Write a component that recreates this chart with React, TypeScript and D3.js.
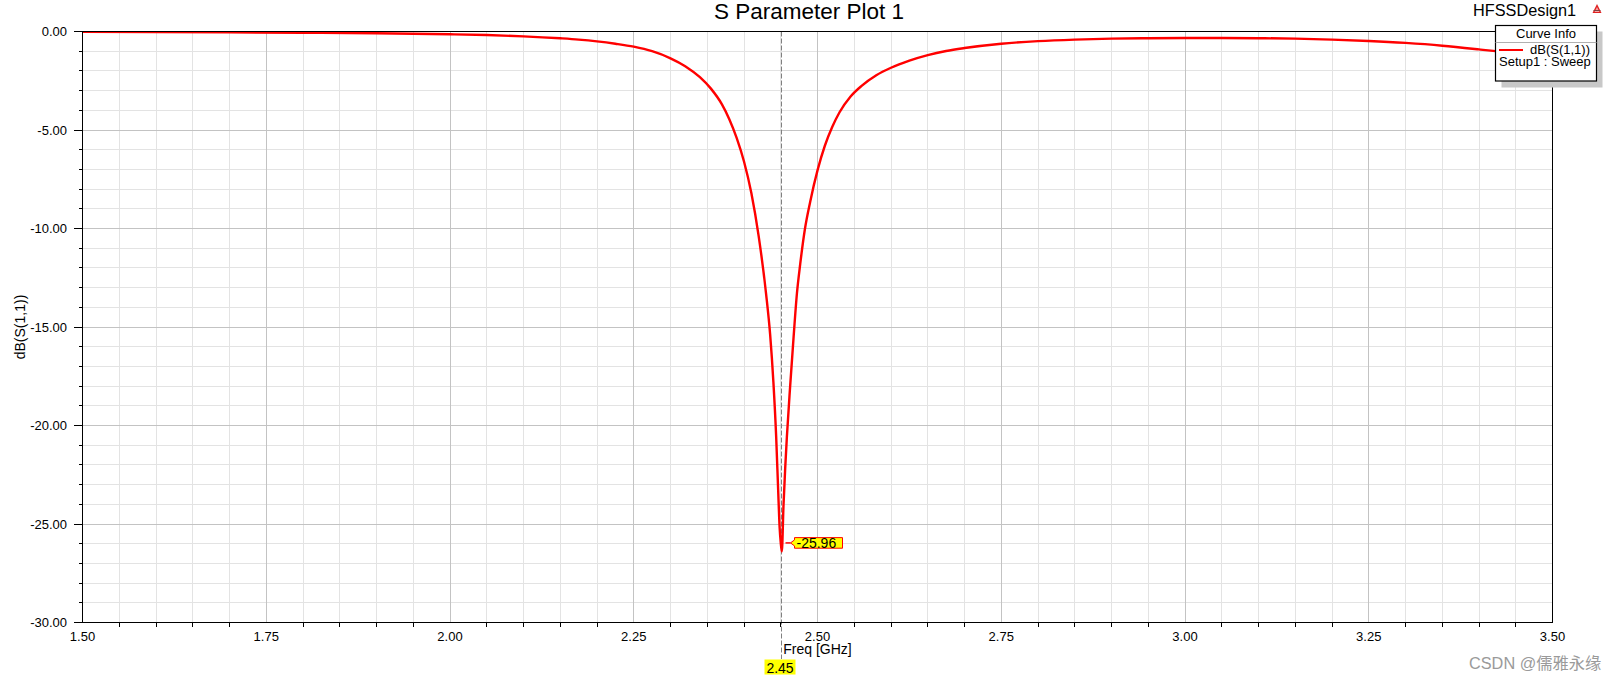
import React from "react";
import * as d3 from "d3";

const freqs = [1.5, 1.6, 1.7, 1.8, 1.9, 2.0, 2.05, 2.1, 2.15, 2.175, 2.2, 2.225, 2.25, 2.275, 2.3, 2.32, 2.34, 2.355, 2.37, 2.38, 2.39, 2.4, 2.41, 2.42, 2.43, 2.4356, 2.44, 2.4438, 2.4465, 2.4485, 2.45, 2.4515, 2.4537, 2.456, 2.4583, 2.4628, 2.4673, 2.472, 2.4765, 2.483, 2.49, 2.5, 2.51, 2.52, 2.53, 2.545, 2.56, 2.58, 2.6, 2.625, 2.65, 2.675, 2.7, 2.75, 2.8, 2.85, 2.9, 2.95, 3.0, 3.05, 3.1, 3.15, 3.2, 3.25, 3.3, 3.35, 3.4, 3.45, 3.5];
const s11 = [-0.02, -0.03, -0.045, -0.065, -0.09, -0.14, -0.18, -0.245, -0.345, -0.41, -0.5, -0.62, -0.77, -1.0, -1.36, -1.76, -2.32, -2.9, -3.7, -4.45, -5.4, -6.6, -8.2, -10.4, -13.3, -15.4, -17.8, -20.6, -23.3, -25.2, -25.96, -26.4, -24.1, -22.2, -20.6, -18.0, -15.6, -13.3, -11.8, -10.0, -8.65, -7.05, -5.8, -4.85, -4.1, -3.3, -2.76, -2.22, -1.84, -1.48, -1.2, -0.99, -0.84, -0.62, -0.49, -0.41, -0.36, -0.34, -0.33, -0.33, -0.34, -0.36, -0.41, -0.48, -0.58, -0.72, -0.91, -1.12, -1.38];

const xMajorTicks = [1.5, 1.75, 2.0, 2.25, 2.5, 2.75, 3.0, 3.25, 3.5];
const xTickLabels = ["1.50", "1.75", "2.00", "2.25", "2.50", "2.75", "3.00", "3.25", "3.50"];
const yMajorTicks = [0, -5, -10, -15, -20, -25, -30];
const yTickLabels = ["0.00", "-5.00", "-10.00", "-15.00", "-20.00", "-25.00", "-30.00"];

const markerFreq = 2.45;
const markerFreqLabel = "2.45";
const markerDb = -25.96;
const markerDbLabel = "-25.96";

const title = "S Parameter Plot 1";
const designName = "HFSSDesign1";
const xTitle = "Freq [GHz]";
const yTitle = "dB(S(1,1))";
const legendHeader = "Curve Info";
const legendSeries = "dB(S(1,1))";
const legendSetup = "Setup1 : Sweep";
const watermark = "CSDN @儒雅永缘";

const FONT = "'Liberation Sans', Arial, sans-serif";

export default function App() {
  const W = 1622, H = 680;
  const L = 82.5, R = 1552.5, T = 31.5, B = 622.5;
  const x = d3.scaleLinear().domain([1.5, 3.5]).range([L, R]);
  const y = d3.scaleLinear().domain([-30, 0]).range([B, T]);

  const xMinor = d3.range(0, 41).map((i) => 1.5 + i * 0.05);
  const yMinor = d3.range(0, 31).map((i) => -i);

  const pts: [number, number][] = freqs.map((f, i) => [f, s11[i]]);
  const line = d3
    .line<[number, number]>()
    .x((d) => x(d[0]))
    .y((d) => y(d[1]))
    .curve(d3.curveMonotoneX);

  const mx = Math.round(x(markerFreq)) + 0.5;
  const my = y(markerDb);

  return (
    <svg
      width={W}
      height={H}
      style={{ position: "absolute", left: 0, top: 0, background: "#fff" }}
      fontFamily={FONT}
    >
      <rect x={0} y={0} width={W} height={H} fill="#fff" />
      <defs>
        <clipPath id="plotclip">
          <rect x={L} y={T} width={R - L} height={B - T} />
        </clipPath>
      </defs>

      {/* grid */}
      <g shapeRendering="crispEdges">
        {xMinor.map((f, i) => (
          <line key={"xm" + i} x1={x(f)} x2={x(f)} y1={T} y2={B} stroke="#e3e3e3" strokeWidth={1} />
        ))}
        {yMinor.map((v, i) => (
          <line key={"ym" + i} x1={L} x2={R} y1={y(v)} y2={y(v)} stroke="#e3e3e3" strokeWidth={1} />
        ))}
        {xMajorTicks.map((f, i) => (
          <line key={"xM" + i} x1={x(f)} x2={x(f)} y1={T} y2={B} stroke="#c3c3c3" strokeWidth={1} />
        ))}
        {yMajorTicks.map((v, i) => (
          <line key={"yM" + i} x1={L} x2={R} y1={y(v)} y2={y(v)} stroke="#c3c3c3" strokeWidth={1} />
        ))}
      </g>

      {/* marker dashed line */}
      <line x1={mx} x2={mx} y1={T} y2={659} stroke="#808080" strokeWidth={1} strokeDasharray="5,2" />

      {/* curve */}
      <path d={line(pts) || ""} fill="none" stroke="#ff0000" strokeWidth={2.4} clipPath="url(#plotclip)" strokeLinejoin="round" />

      {/* frame */}
      <rect x={L} y={T} width={R - L} height={B - T} fill="none" stroke="#000" strokeWidth={1} shapeRendering="crispEdges" />

      {/* ticks */}
      <g shapeRendering="crispEdges">
        {yMinor.map((v, i) => (
          <line key={"yt" + i} x1={L - (v % 5 === 0 ? 9 : 4)} x2={L} y1={y(v)} y2={y(v)} stroke="#000" />
        ))}
        {xMinor.map((f, i) =>
          i % 5 === 0 ? null : (
            <line key={"xt" + i} x1={x(f)} x2={x(f)} y1={B} y2={B + 4} stroke="#000" />
          )
        )}
      </g>

      {/* tick labels */}
      {yMajorTicks.map((v, i) => (
        <text key={"yl" + i} x={67} y={y(v) + 4.5} fontSize={13} textAnchor="end" fill="#000">
          {yTickLabels[i]}
        </text>
      ))}
      {xMajorTicks.map((f, i) => (
        <text key={"xl" + i} x={x(f)} y={641} fontSize={13} textAnchor="middle" fill="#000">
          {xTickLabels[i]}
        </text>
      ))}

      {/* axis titles */}
      <text x={(L + R) / 2} y={654} fontSize={14} textAnchor="middle" fill="#000">
        {xTitle}
      </text>
      <text transform={`translate(24.5, ${(T + B) / 2}) rotate(-90)`} fontSize={14} textAnchor="middle" fill="#000">
        {yTitle}
      </text>

      {/* title */}
      <text x={809} y={18.5} fontSize={22.5} textAnchor="middle" fill="#000">
        {title}
      </text>
      <text x={1473} y={15.5} fontSize={16.3} fill="#000">
        {designName}
      </text>
      {/* small icon */}
      <g>
        <path d="M1597,4 L1601.5,13 L1592.5,13 Z" fill="#e02020" />
        <path d="M1597,7 L1599.5,12 L1594.5,12 Z" fill="#ffffff" opacity={0.6} />
        <line x1={1593.5} x2={1600.5} y1={10.5} y2={10.5} stroke="#804040" strokeWidth={1} />
      </g>

      {/* legend */}
      <rect x={1501.5} y={31.5} width={101} height={56} fill="#c8c8c8" />
      <rect x={1495.5} y={25.5} width={101} height={55.5} fill="#fff" stroke="#000" strokeWidth={1.2} />
      <line x1={1495.5} x2={1596.5} y1={42.5} y2={42.5} stroke="#b0b0b0" strokeWidth={1} />
      <text x={1546} y={37.5} fontSize={13} textAnchor="middle" fill="#000">
        {legendHeader}
      </text>
      <line x1={1499} x2={1523} y1={50} y2={50} stroke="#ff0000" strokeWidth={2} />
      <text x={1530} y={54.3} fontSize={13} fill="#000">
        {legendSeries}
      </text>
      <text x={1499} y={66} fontSize={13} fill="#000">
        {legendSetup}
      </text>

      {/* marker labels */}
      <rect x={764.5} y={659.5} width={31} height={15} fill="#ffff00" />
      <text x={780} y={672.5} fontSize={14} textAnchor="middle" fill="#000">
        {markerFreqLabel}
      </text>
      <path
        d={`M${mx + 9},${my} L${mx + 13},${my - 3} L${mx + 13},${my - 5.3} L${mx + 61},${my - 5.3} L${mx + 61},${my + 5.3} L${mx + 13},${my + 5.3} L${mx + 13},${my + 3} Z`}
        fill="#ffff00"
        stroke="#ff0000"
        strokeWidth={1}
      />
      <line x1={mx + 4} x2={mx + 9} y1={my} y2={my} stroke="#ff0000" strokeWidth={1.5} />
      <text x={mx + 15} y={my + 5} fontSize={14} fill="#000">
        {markerDbLabel}
      </text>

      {/* watermark */}
      <text x={1469} y={669} fontSize={16.3} fill="#9a9a9a" fontFamily="'Liberation Sans', 'Noto Sans CJK SC', sans-serif">
        {watermark}
      </text>
    </svg>
  );
}
